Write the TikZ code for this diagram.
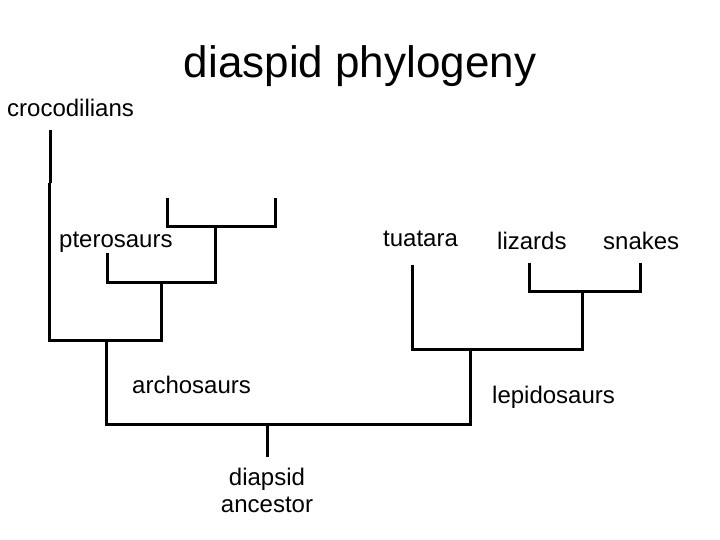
\documentclass[tikz,border=0pt]{standalone}
\usepackage{fontspec}
\setmainfont{Liberation Sans}
\begin{document}
\begin{tikzpicture}[x=1bp,y=-1bp,
  branch/.style={line width=3bp,black,line join=miter},
  taxon/.style={anchor=base west,inner sep=0pt,font=\fontsize{24bp}{27bp}\selectfont},
  titletext/.style={anchor=base,inner sep=0pt,font=\fontsize{44bp}{50bp}\selectfont}]
\useasboundingbox (0,0) rectangle (720,540);
% labels
\node[titletext] (title) at (360,78) {diaspid phylogeny};
\node[taxon] (croc) at (7,117) {crocodilians};
\node[taxon] (ptero) at (59,248) {pterosaurs};
\node[taxon] (tua) at (383,247) {tuatara};
\node[taxon] (liz) at (497,250) {lizards};
\node[taxon] (snk) at (603,250) {snakes};
\node[taxon] (arch) at (132,393) {archosaurs};
\node[taxon] (lepi) at (492,403) {lepidosaurs};
\node[anchor=base,inner sep=0pt,align=center,font=\fontsize{24bp}{27bp}\selectfont] (anc) at (267,512) {diapsid\\ancestor};
% tips
\coordinate (ctip) at (50,130);
\coordinate (ckink) at (50,183);
\coordinate (ckink2) at (49,183);
\coordinate (ptip) at (107,253);
\coordinate (u1) at (167,198);
\coordinate (u2) at (275,198);
\coordinate (ttip) at (412,265);
\coordinate (ltip) at (529,263);
\coordinate (stip) at (640,263);
% junctions
\coordinate (A) at (215,227);
\coordinate (B) at (161,282);
\coordinate (C) at (106,340);
\coordinate (D) at (582,291);
\coordinate (E) at (470,349);
\coordinate (R) at (267,424);
\coordinate (Rb) at (267,457);
% branches
\draw[branch] (u1) |- (A) -| (u2);
\draw[branch] (ptip) |- (B) -| (A);
\draw[branch] (ctip) -- (ckink);
\draw[branch] (ckink2) |- (C) -| (B);
\draw[branch] (ltip) |- (D) -| (stip);
\draw[branch] (ttip) |- (E) -| (D);
\draw[branch] (C) |- (R) -| (E);
\draw[branch] (R) -- (Rb);
\end{tikzpicture}
\end{document}
